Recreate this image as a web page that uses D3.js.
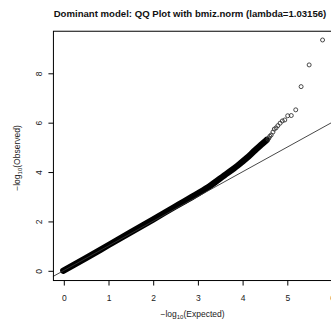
<!DOCTYPE html>
<html>
<head>
<meta charset="utf-8">
<script src="https://cdn.jsdelivr.net/npm/d3@7"></script>
<style>
  html, body { margin: 0; padding: 0; background: #fff; }
  svg { display: block; font-family: "Liberation Sans", Arial, sans-serif; }
</style>
</head>
<body>
<script>
// ---- data ----
const titleText = "Dominant model: QQ Plot with bmiz.norm (lambda=1.03156)";
const xTicks = [0, 1, 2, 3, 4, 5, 6];
const yTicks = [0, 2, 4, 6, 8];

// dense part of the QQ cloud (points overlap into a solid band)
const bandExpected = [0, 0.5, 1.0, 1.5, 2.0, 2.5, 3.0, 3.3, 3.6, 3.9, 4.1, 4.3, 4.45, 4.55];
const bandObserved = [0, 0.51, 1.03, 1.55, 2.07, 2.6, 3.12, 3.46, 3.86, 4.26, 4.56, 4.9, 5.14, 5.3];

// sparse upper tail: individual points
const tailExpected = [5.80, 5.50, 5.32, 5.20, 5.10, 5.02, 4.955, 4.90, 4.85, 4.80, 4.76, 4.72, 4.69, 4.65, 4.62, 4.60, 4.58];
const tailObserved = [9.35, 8.34, 7.46, 6.52, 6.29, 6.28, 6.11, 6.07, 5.98, 5.88, 5.79, 5.74, 5.62, 5.50, 5.45, 5.38, 5.33];

// ---- layout ----
const W = 331, H = 328;
const svg = d3.select("body").append("svg").attr("width", W).attr("height", H);

const x = d3.scaleLinear().domain([0, 6]).range([63.3, 331.5]);
const y = d3.scaleLinear().domain([0, 8]).range([270.8, 73.3]);

// R-style 4% extension of the data range
const xMax = d3.max(tailExpected), yMax = d3.max(tailObserved);
const box = { x0: x(-0.04 * xMax), x1: x(xMax * 1.04), y0: y(yMax * 1.04), y1: y(-0.04 * yMax) };

// clip for plotting region
svg.append("clipPath").attr("id", "plotclip")
  .append("rect")
  .attr("x", box.x0).attr("y", box.y0)
  .attr("width", box.x1 - box.x0).attr("height", box.y1 - box.y0);

const plot = svg.append("g").attr("clip-path", "url(#plotclip)");

// band of overlapping points
const band = bandExpected.map((e, i) => [e, bandObserved[i]]);
plot.append("path")
  .datum(band)
  .attr("d", d3.line().x(d => x(d[0])).y(d => y(d[1])).curve(d3.curveMonotoneX))
  .attr("fill", "none")
  .attr("stroke", "#000")
  .attr("stroke-width", 6.3)
  .attr("stroke-linecap", "round")
  .attr("stroke-linejoin", "round");

// tail points
const tail = tailExpected.map((e, i) => [e, tailObserved[i]]);
plot.selectAll("circle.tail")
  .data(tail)
  .join("circle")
  .attr("class", "tail")
  .attr("cx", d => x(d[0]))
  .attr("cy", d => y(d[1]))
  .attr("r", 2)
  .attr("fill", "none")
  .attr("stroke", "#333")
  .attr("stroke-width", 0.9);

// y = x reference line
const lo = -1, hi = 12;
plot.append("line")
  .attr("x1", x(lo)).attr("y1", y(lo))
  .attr("x2", x(hi)).attr("y2", y(hi))
  .attr("stroke", "#333")
  .attr("stroke-width", 0.9);

// box
svg.append("rect")
  .attr("x", box.x0 + 0.5).attr("y", box.y0 + 0.5)
  .attr("width", box.x1 - box.x0).attr("height", box.y1 - box.y0)
  .attr("fill", "none").attr("stroke", "#000").attr("stroke-width", 1);

// x axis
const xAxis = d3.axisBottom(x).tickValues(xTicks).tickSize(5).tickPadding(9).tickFormat(d3.format("d"));
const gx = svg.append("g").attr("transform", `translate(0.5,${box.y1 + 0.5})`).call(xAxis);
gx.select(".domain").remove();
gx.selectAll("line").attr("stroke", "#000");
gx.selectAll("text").attr("font-size", 8.5).attr("fill", "#222")
  .attr("font-family", "'Liberation Sans', Arial, sans-serif");

// y axis
const yAxis = d3.axisLeft(y).tickValues(yTicks).tickSize(5).tickPadding(0).tickFormat(d3.format("d"));
const gy = svg.append("g").attr("transform", `translate(${box.x0 + 0.5},0.5)`).call(yAxis);
gy.select(".domain").remove();
gy.selectAll("line").attr("stroke", "#000");
gy.selectAll("text")
  .attr("font-size", 8.5).attr("fill", "#222")
  .attr("font-family", "'Liberation Sans', Arial, sans-serif")
  .attr("x", null).attr("dy", null)
  .attr("text-anchor", "middle")
  .attr("transform", d => `translate(-11,${y(d)}) rotate(-90)`)
  .attr("y", 0);
gy.selectAll(".tick").attr("transform", null);
gy.selectAll(".tick line").attr("y1", d => y(d)).attr("y2", d => y(d));

// title
svg.append("text")
  .attr("x", 190).attr("y", 17)
  .attr("text-anchor", "middle")
  .attr("font-size", 9.6).attr("font-weight", "bold").attr("fill", "#111")
  .text(titleText);

// x label: −log10(Expected)
const xl = svg.append("text")
  .attr("x", 192.5).attr("y", 317)
  .attr("text-anchor", "middle")
  .attr("font-size", 8.5).attr("fill", "#222");
xl.append("tspan").text("\u2212log");
xl.append("tspan").attr("font-size", 6).attr("dy", 2).text("10");
xl.append("tspan").attr("dy", -2).text("(Expected)");

// y label: −log10(Observed)
const yl = svg.append("text")
  .attr("transform", "translate(20,158) rotate(-90)")
  .attr("text-anchor", "middle")
  .attr("font-size", 8.5).attr("fill", "#222");
yl.append("tspan").text("\u2212log");
yl.append("tspan").attr("font-size", 6).attr("dy", 2).text("10");
yl.append("tspan").attr("dy", -2).text("(Observed)");
</script>
</body>
</html>
